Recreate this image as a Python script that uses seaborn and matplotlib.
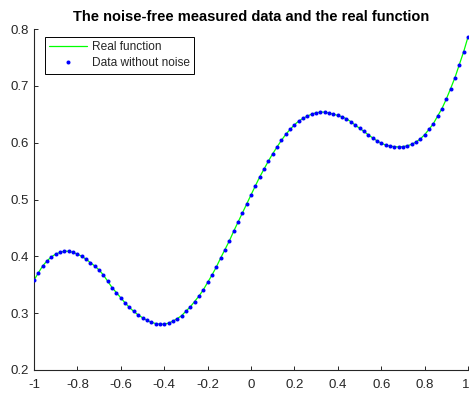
import numpy as np
import pandas as pd
import matplotlib
matplotlib.use("Agg")
import matplotlib.pyplot as plt
import matplotlib.transforms as mtransforms
import seaborn as sns

# Sample grid and sampled function values
x_values = np.linspace(-1.0, 1.0, 101)
y_values = [
    0.358, 0.371, 0.383, 0.392, 0.399, 0.404, 0.407, 0.409, 0.409, 0.407,
    0.404, 0.400, 0.395, 0.389, 0.383, 0.376, 0.367, 0.356, 0.345, 0.336,
    0.327, 0.318, 0.310, 0.303, 0.297, 0.292, 0.2875, 0.284, 0.2818, 0.2807,
    0.2807, 0.2825, 0.286, 0.2905, 0.2955, 0.3035, 0.311, 0.3205, 0.330, 0.341,
    0.354, 0.367, 0.381, 0.397, 0.412, 0.427, 0.444, 0.460, 0.476, 0.492,
    0.508, 0.524, 0.5395, 0.5535, 0.5675, 0.5805, 0.5925, 0.604, 0.6145, 0.6232,
    0.6315, 0.638, 0.6428, 0.6468, 0.6503, 0.6526, 0.6538, 0.6538, 0.652, 0.650,
    0.648, 0.6455, 0.642, 0.637, 0.631, 0.6255, 0.620, 0.614, 0.6085, 0.6035,
    0.599, 0.596, 0.594, 0.593, 0.5925, 0.593, 0.5945, 0.597, 0.601, 0.6065,
    0.614, 0.6233, 0.6333, 0.6468, 0.660, 0.6767, 0.6953, 0.7146, 0.7374, 0.760,
    0.786,
]

x_ticks = [-1, -0.8, -0.6, -0.4, -0.2, 0, 0.2, 0.4, 0.6, 0.8, 1]
x_tick_labels = ["-1", "-0.8", "-0.6", "-0.4", "-0.2", "0", "0.2", "0.4", "0.6", "0.8", "1"]
y_ticks = [0.2, 0.3, 0.4, 0.5, 0.6, 0.7, 0.8]
y_tick_labels = ["0.2", "0.3", "0.4", "0.5", "0.6", "0.7", "0.8"]

title_text = "The noise-free measured data and the real function"
line_label = "Real function"
dots_label = "Data without noise"

df = pd.DataFrame({"x": x_values, "y": y_values})

sns.set_style("ticks")
plt.rcParams["font.family"] = ["Liberation Sans", "DejaVu Sans"]
plt.rcParams["axes.unicode_minus"] = False

ink = "#262626"

fig = plt.figure(figsize=(4.69, 3.96), dpi=100)
ax = fig.add_axes([34 / 469, 1 - 370 / 396, 434 / 469, 341 / 396])

sns.lineplot(data=df, x="x", y="y", ax=ax, color="#00ff00", linewidth=0.9,
             label=line_label, zorder=2)
ax.plot(df["x"], df["y"], linestyle="none", marker="o", markersize=2.9,
        markeredgewidth=0, color="#0000ff", label=dots_label, zorder=3)

ax.set_xlim(-1, 1)
ax.set_ylim(0.2, 0.8)
ax.set_xticks(x_ticks)
ax.set_xticklabels(x_tick_labels)
ax.set_yticks(y_ticks)
ax.set_yticklabels(y_tick_labels)
ax.set_xlabel("")
ax.set_ylabel("")

ax.tick_params(axis="both", direction="in", length=3, width=0.7,
               colors=ink, labelsize=9.5)
ax.tick_params(axis="x", pad=6.5)
ax.tick_params(axis="y", pad=4)
for side in ("top", "right"):
    ax.spines[side].set_visible(False)
for side in ("left", "bottom"):
    ax.spines[side].set_color(ink)
    ax.spines[side].set_linewidth(0.8)

# keep the last x tick label inside the figure edge
last = ax.get_xticklabels()[-1]
last.set_transform(last.get_transform() +
                   mtransforms.ScaledTranslation(-2.5 / 100, 0, fig.dpi_scale_trans))

ax.set_title(title_text, fontsize=10.5, fontweight="bold", color="black", pad=6)

leg = ax.legend(loc="upper left", bbox_to_anchor=(11 / 434, 1 - 8 / 341),
                borderaxespad=0, frameon=True, fancybox=False, fontsize=8.6,
                handlelength=3.2, handletextpad=0.4, borderpad=0.35,
                labelspacing=0.35)
leg.get_frame().set_edgecolor("black")
leg.get_frame().set_linewidth(0.7)
leg.get_frame().set_alpha(1)

fig.savefig("out.png", dpi=100)
